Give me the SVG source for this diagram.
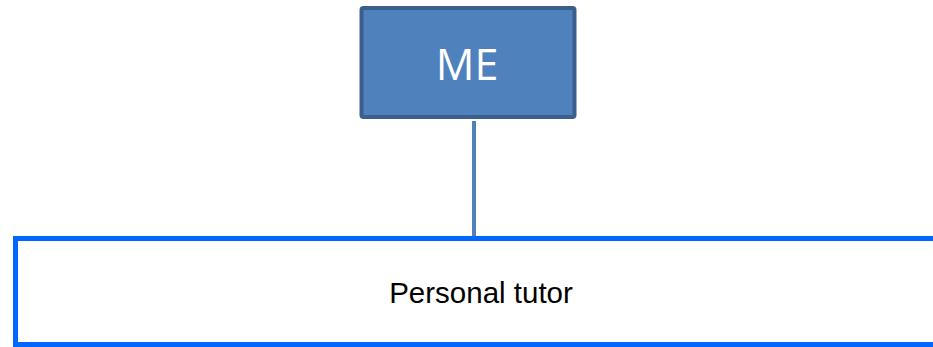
<svg xmlns="http://www.w3.org/2000/svg" width="933" height="347" viewBox="0 0 933 347">
<style>
.me{fill:#4F81BD;stroke:#3B5F8C;stroke-width:4}
.tutor{fill:#FFFFFF;stroke:#0066FF;stroke-width:5}
.conn{stroke:#4F81BD;stroke-width:4;fill:none}
.t1{font-family:"Open Sans","Liberation Sans",sans-serif;font-size:43px;fill:#FFFFFF}
.t2{font-family:"Liberation Sans",Arial,sans-serif;font-size:29.5px;fill:#000000}
</style>
<rect width="933" height="347" fill="#FFFFFF"/>
<g id="connectors">
<line class="conn" x1="474" y1="121" x2="474" y2="239"/>
</g>
<g id="node-tutor">
<rect class="tutor" x="15.5" y="238.5" width="930" height="106"/>
<text class="t2" x="481" y="303" text-anchor="middle">Personal tutor</text>
</g>
<g id="node-me">
<rect class="me" x="361.5" y="8" width="213" height="109" rx="2"/>
<text class="t1" x="467" y="80" text-anchor="middle">ME</text>
</g>
</svg>
